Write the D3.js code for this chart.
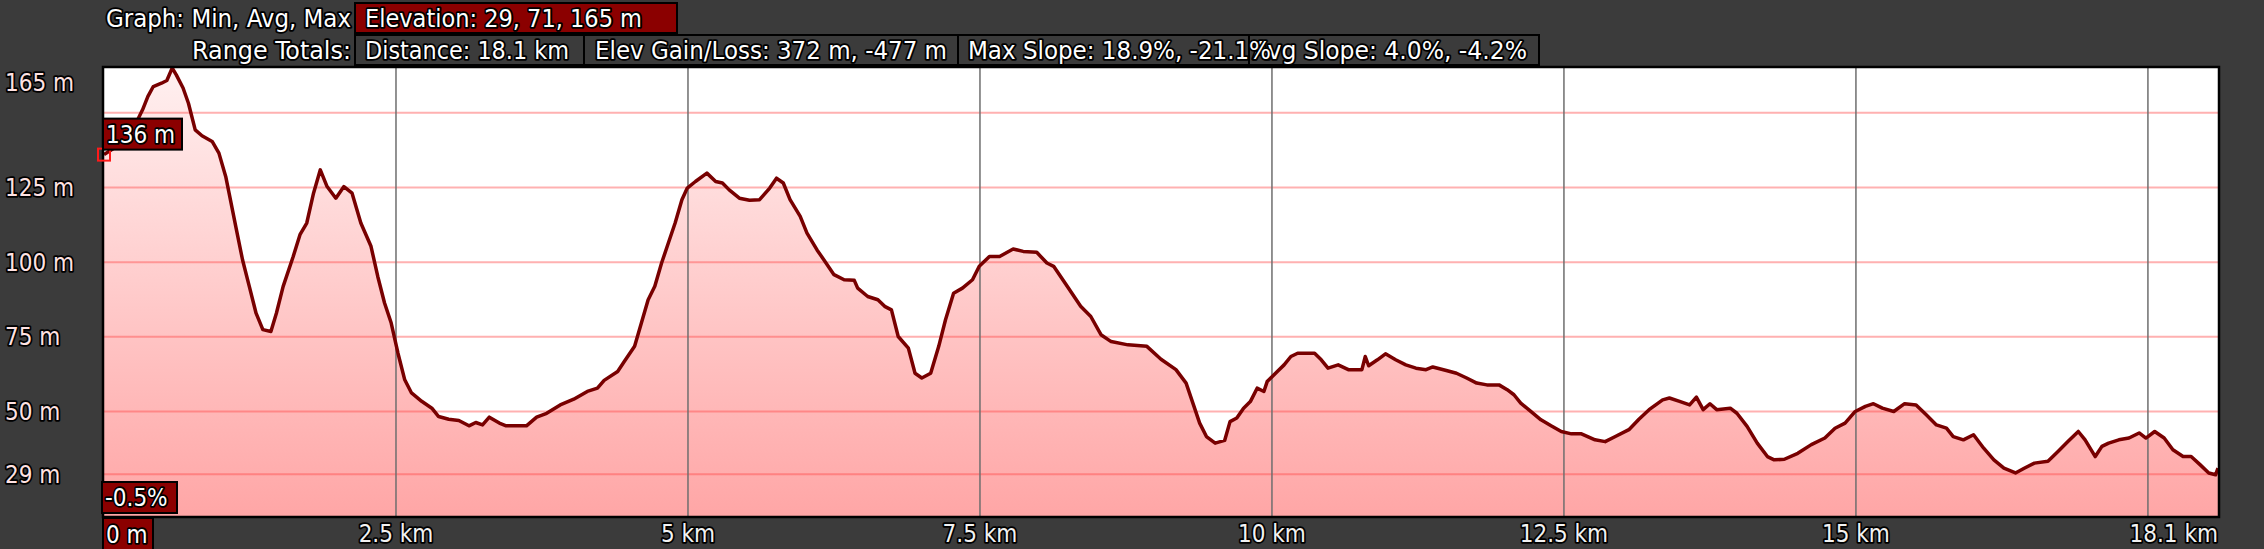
<!DOCTYPE html>
<html><head><meta charset="utf-8">
<script src="https://cdn.jsdelivr.net/npm/d3@7"></script>
<style>
html,body{margin:0;padding:0;background:#3b3b3b;}
svg{display:block;}
text{font-family:'DejaVu Sans Condensed','DejaVu Sans',sans-serif;font-stretch:condensed;font-size:24px;paint-order:stroke;stroke:#000;stroke-width:3.5px;stroke-linejoin:round;}
</style></head><body><svg id="c" width="2264" height="549"></svg>
<script>
// ---------- data ----------
const distanceKm = [0,0.087,0.145,0.26,0.33,0.376,0.422,0.492,0.538,0.584,0.619,0.677,0.723,0.781,0.839,0.926,0.984,1.042,1.071,1.128,1.186,1.244,1.302,1.36,1.429,1.476,1.534,1.62,1.678,1.736,1.794,1.852,1.91,1.985,2.054,2.124,2.199,2.286,2.344,2.402,2.459,2.517,2.575,2.633,2.72,2.807,2.865,2.951,3.038,3.125,3.183,3.241,3.299,3.385,3.443,3.617,3.704,3.79,3.906,4.022,4.138,4.225,4.282,4.398,4.456,4.543,4.601,4.659,4.716,4.774,4.832,4.89,4.948,4.994,5.064,5.162,5.237,5.295,5.353,5.44,5.527,5.613,5.7,5.758,5.816,5.874,5.961,6.019,6.105,6.163,6.25,6.337,6.424,6.453,6.539,6.626,6.684,6.742,6.8,6.887,6.944,7.002,7.078,7.147,7.205,7.274,7.35,7.436,7.494,7.581,7.668,7.784,7.87,7.986,8.073,8.131,8.247,8.362,8.449,8.536,8.623,8.767,8.929,9.05,
9.178,9.265,9.323,9.381,9.439,9.514,9.595,9.641,9.699,9.757,9.815,9.873,9.931,9.959,10.046,10.104,10.162,10.22,10.365,10.422,10.48,10.567,10.654,10.77,10.799,10.828,10.903,10.972,11.059,11.146,11.233,11.319,11.377,11.493,11.58,11.667,11.753,11.84,11.944,12.014,12.072,12.13,12.216,12.303,12.39,12.477,12.564,12.65,12.766,12.853,12.94,13.056,13.142,13.229,13.345,13.403,13.49,13.576,13.634,13.692,13.75,13.808,13.924,13.981,14.068,14.155,14.242,14.3,14.387,14.502,14.618,14.734,14.821,14.907,14.994,15.081,15.15,15.226,15.324,15.417,15.515,15.602,15.689,15.775,15.833,15.92,16.007,16.094,16.181,16.267,16.366,16.441,16.528,16.644,16.73,16.817,16.904,16.962,17.049,17.106,17.164,17.251,17.338,17.425,17.483,17.558,17.639,17.714,17.801,17.87,17.946,18.021,18.079,18.1];
const elevationM = [136,138.2,139.8,145.4,151,155.5,158.8,159.9,160.8,165,162.7,158.3,153.2,144.3,142.3,140.4,136.5,128.7,123.1,112,100.8,91.9,82.9,77.4,76.8,82.9,91.9,101.9,109.2,113.1,123.1,130.9,125.3,121.4,125.3,123.1,113.1,105.3,95.2,86.3,79.6,69.5,60.6,56.2,53.4,51.1,48.3,47.4,47,45.2,46.3,45.5,48.1,46.1,45.2,45.2,48.1,49.4,52.2,54.1,56.7,57.8,60.4,63.4,66.8,71.8,79.6,87.4,91.9,99.7,106.4,113.1,120.9,124.8,127,129.8,127,126.5,124.2,121.4,120.7,120.9,124.8,128.1,126.5,120.9,115.3,109.7,104.1,100.8,95.8,94.1,93.9,91.3,88.5,87.4,85.2,84,75.1,71.2,62.8,61.2,62.8,71.8,80.7,89.6,91.3,94.1,98.6,101.9,101.9,104.4,103.6,103.3,99.7,98.6,91.9,85.2,81.8,75.7,73.4,72.3,71.8,67.5,
64,59.5,52.8,46.1,41.6,39.4,40.3,46.6,47.8,51.1,53.3,57.8,56.7,60,63.4,65.6,68.4,69.5,69.5,67.3,64.5,65.6,64,64,68.4,65.3,67.3,69.3,67.3,65.6,64.5,64,64.9,63.7,62.8,61.2,59.5,58.9,58.9,57.3,55.6,52.8,50,47.2,45.2,43.3,42.5,42.5,40.5,39.9,41.6,43.9,47.4,50.6,53.9,54.5,53.4,52.2,54.8,50.6,52.6,50.6,51.1,49.4,45,39.4,34.9,33.8,34,36,38.9,41.1,44.4,46.1,50,51.7,52.6,51.1,50,52.6,52.2,48.9,45.5,44.4,41.6,40.5,42.2,37.7,33.8,31,29.4,31,32.7,33.3,36.6,40,43.3,40.5,34.9,38.3,39.4,40.5,41.1,42.8,41.1,43.3,41.1,37.2,34.9,34.9,32.2,29.4,28.8,31];
const xGridKm = [2.5,5,7.5,10,12.5,15,17.5];
const xTickKm = [2.5,5,7.5,10,12.5,15];
const xEndLabel = "18.1 km";
const yGridM = [150,125,100,75,50,29];
const yTickM = [165,125,100,75,50,29];
const headerLabels = ["Graph: Min, Avg, Max","Range Totals:"];
const headerStats = ["Elevation: 29, 71, 165 m","Distance: 18.1 km","Elev Gain/Loss: 372 m, -477 m","Max Slope: 18.9%, -21.1%","Avg Slope: 4.0%, -4.2%"];
const cursorSlope = "-0.5%";
const cursorDistance = "0 m";

// ---------- layout ----------
const W=2264,H=549;
const plot={l:104,r:2218,t:68,b:516};
const svg=d3.select("#c");
const x=d3.scaleLinear().domain([0,18.1]).range([plot.l,plot.r]);
const y=d3.scaleLinear().domain([15,165]).range([plot.b,plot.t]);
const data=distanceKm.map((d,i)=>({d,e:elevationM[i]}));

const defs=svg.append("defs");
const g=defs.append("linearGradient").attr("id","fillg").attr("gradientUnits","userSpaceOnUse")
  .attr("x1",0).attr("x2",0).attr("y1",plot.t).attr("y2",plot.b);
g.append("stop").attr("offset",0).attr("stop-color","#fff0f0");
g.append("stop").attr("offset",1).attr("stop-color","#ffa6a6");
defs.append("clipPath").attr("id","clip").append("rect")
  .attr("x",plot.l).attr("y",plot.t).attr("width",plot.r-plot.l).attr("height",plot.b-plot.t);

svg.append("rect").attr("x",plot.l).attr("y",plot.t).attr("width",plot.r-plot.l).attr("height",plot.b-plot.t).attr("fill","#fff");

const pg=svg.append("g").attr("clip-path","url(#clip)");
pg.append("path").datum(data).attr("fill","url(#fillg)")
  .attr("d",d3.area().x(p=>x(p.d)).y0(plot.b).y1(p=>y(p.e)));

pg.append("g").selectAll("line").data(yGridM).join("line")
  .attr("x1",plot.l).attr("x2",plot.r).attr("y1",d=>y(d)).attr("y2",d=>y(d))
  .attr("stroke","rgba(255,70,70,0.42)").attr("stroke-width",2);
pg.append("g").selectAll("line").data(xGridKm).join("line")
  .attr("x1",d=>x(d)).attr("x2",d=>x(d)).attr("y1",plot.t).attr("y2",plot.b)
  .attr("stroke","#6e6e6e").attr("stroke-width",1.5);

pg.append("path").datum(data).attr("fill","none").attr("stroke","#780000").attr("stroke-width",3.5)
  .attr("stroke-linejoin","round")
  .attr("d",d3.line().x(p=>x(p.d)).y(p=>y(p.e)));

svg.append("rect").attr("x",plot.l-1).attr("y",plot.t-1).attr("width",plot.r-plot.l+2).attr("height",plot.b-plot.t+2)
  .attr("fill","none").attr("stroke","#000").attr("stroke-width",2.5);

svg.append("g").selectAll("text").data(yTickM).join("text")
  .attr("x",5).attr("y",d=>Math.max(y(d),plot.t+14)).attr("dy","0.36em")
  .attr("fill","#ffe2e2").text(d=>d+" m");

svg.append("g").selectAll("text").data(xTickKm).join("text")
  .attr("x",d=>x(d)).attr("y",533).attr("dy","0.36em").attr("text-anchor","middle")
  .attr("fill","#f2f2f2").text(d=>d+" km");
svg.append("text").attr("x",plot.r).attr("y",533).attr("dy","0.36em").attr("text-anchor","end")
  .attr("fill","#f2f2f2").text(xEndLabel);

const hdr=svg.append("g");
hdr.append("text").attr("x",351).attr("y",18).attr("dy","0.36em").attr("text-anchor","end").attr("fill","#fff")
  .attr("textLength",245).attr("lengthAdjust","spacingAndGlyphs").text(headerLabels[0]);
hdr.append("text").attr("x",351).attr("y",50).attr("dy","0.36em").attr("text-anchor","end").attr("fill","#fff")
  .attr("textLength",159).attr("lengthAdjust","spacingAndGlyphs").text(headerLabels[1]);
const boxes=[
 {x0:355,x1:677,y0:3,y1:33,tx:365,tw:277,fill:"#8b0000"},
 {x0:355,x1:584,y0:35,y1:65,tx:365,tw:204,fill:"#3b3b3b"},
 {x0:584,x1:958,y0:35,y1:65,tx:595,tw:352,fill:"#3b3b3b"},
 {x0:958,x1:1249,y0:35,y1:65,tx:968,tw:303,fill:"#3b3b3b"},
 {x0:1249,x1:1539,y0:35,y1:65,tx:1253,tw:274,fill:"#3b3b3b"}
];
hdr.selectAll("rect").data(boxes).join("rect")
  .attr("x",b=>b.x0).attr("y",b=>b.y0).attr("width",b=>b.x1-b.x0).attr("height",b=>b.y1-b.y0)
  .attr("fill",b=>b.fill).attr("stroke","#000").attr("stroke-width",2);
[0,1,2,4,3].forEach(i=>{
  const b=boxes[i];
  hdr.append("text").attr("x",b.tx).attr("y",(b.y0+b.y1)/2).attr("dy","0.36em").attr("fill","#fff")
    .attr("textLength",b.tw).attr("lengthAdjust","spacingAndGlyphs").text(headerStats[i]);
});

const cx=x(distanceKm[0]), cy=y(elevationM[0]);
svg.append("rect").attr("x",cx-6).attr("y",cy-6).attr("width",12).attr("height",12)
  .attr("fill","none").attr("stroke","#ff1a1a").attr("stroke-width",2);
function tag(xl,yt,w,h,txt){
  svg.append("rect").attr("x",xl).attr("y",yt).attr("width",w).attr("height",h)
    .attr("fill","#8b0000").attr("stroke","#000").attr("stroke-width",2);
  svg.append("text").attr("x",xl+3).attr("y",yt+h/2).attr("dy","0.36em").attr("fill","#fff").text(txt);
}
tag(cx-1,cy-36,79,31,Math.round(elevationM[0])+" m");
tag(cx-2,482,75,31,cursorSlope);
tag(cx-1,518,50,32,cursorDistance);
</script></body></html>
